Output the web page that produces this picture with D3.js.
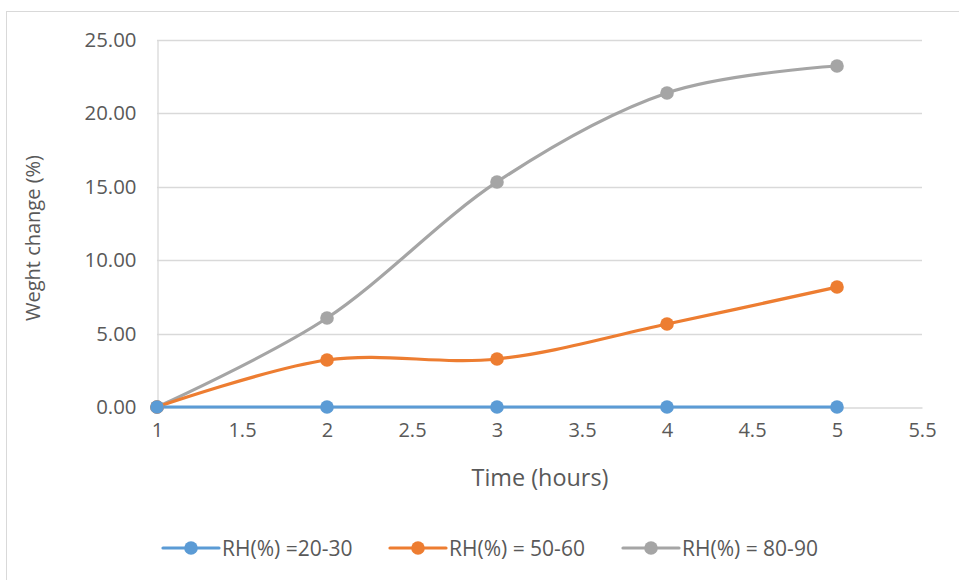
<!DOCTYPE html>
<html><head><meta charset="utf-8">
<script src="https://cdn.jsdelivr.net/npm/d3@7"></script>
<style>
html,body{margin:0;padding:0;background:#fff;}
svg text{font-family:"Open Sans",Lato,sans-serif;fill:#595959;}
</style></head>
<body>
<svg id="c" width="959" height="580"></svg>
<script>
const times = [1, 2, 3, 4, 5];
const seriesNames = ["RH(%) =20-30", "RH(%) = 50-60", "RH(%) = 80-90"];
const rh2030 = [0, 0, 0, 0, 0];
const rh5060 = [0, 3.2, 3.27, 5.65, 8.17];
const rh8090 = [0, 6.06, 15.33, 21.39, 23.23];
const colors = ["#5b9bd5", "#ed7d31", "#a5a5a5"];
const xTicks = [1, 1.5, 2, 2.5, 3, 3.5, 4, 4.5, 5, 5.5];
const yTicks = [0, 5, 10, 15, 20, 25];

const svg = d3.select("#c");
svg.append("rect").attr("x",6.5).attr("y",11.5).attr("width",970).attr("height",600)
  .attr("fill","none").attr("stroke","#d9d9d9").attr("stroke-width",1);

const x = d3.scaleLinear().domain([1,5.5]).range([157,922]);
const y = d3.scaleLinear().domain([0,25]).range([407,40]);

// gridlines
svg.append("g").selectAll("line").data(yTicks.filter(d=>d>0)).join("line")
  .attr("x1",x(1)).attr("x2",x(5.5)).attr("y1",d=>Math.round(y(d))+0.5).attr("y2",d=>Math.round(y(d))+0.5)
  .attr("stroke","#d9d9d9").attr("stroke-width",1.3);

// axes
const xa = svg.append("g").attr("transform",`translate(0,${Math.round(y(0))+0.5})`)
  .call(d3.axisBottom(x).tickValues(xTicks).tickSize(0).tickPadding(15).tickFormat(d=>d3.format("")(d)));
xa.select(".domain").attr("stroke","#d9d9d9").attr("stroke-width",1.3);
xa.selectAll("text").attr("font-size","20px").attr("fill","#595959");

const ya = svg.append("g").attr("transform",`translate(${Math.round(x(1))+0.5},0)`)
  .call(d3.axisLeft(y).tickValues(yTicks).tickSize(0).tickPadding(21).tickFormat(d3.format(".2f")));
ya.select(".domain").attr("stroke","#d9d9d9").attr("stroke-width",1.3);
ya.selectAll("text").attr("font-size","20.4px").attr("fill","#595959");

// titles
svg.append("text").attr("x",540).attr("y",486).attr("text-anchor","middle")
  .attr("font-size","23.4px").text("Time (hours)");
svg.append("text").attr("transform","translate(40,238) rotate(-90)").attr("text-anchor","middle")
  .attr("font-size","20px").text("Weght change (%)");

// series
const data = [rh2030, rh5060, rh8090];
const line = d3.line().x((d,i)=>x(times[i])).y(d=>y(d)).curve(d3.curveCardinal.tension(0));
const order = [2,1,0];
order.forEach(k=>{
  svg.append("path").attr("d",line(data[k])).attr("fill","none")
    .attr("stroke",colors[k]).attr("stroke-width",3.2).attr("stroke-linecap","round");
});
order.forEach(k=>{
  svg.append("g").selectAll("circle").data(data[k]).join("circle")
    .attr("cx",(d,i)=>x(times[i])).attr("cy",d=>y(d)).attr("r",6.8).attr("fill",colors[k]);
});

// legend
const legX = [163, 390, 623];
seriesNames.forEach((n,k)=>{
  const g = svg.append("g").attr("transform",`translate(${legX[k]},548)`);
  g.append("line").attr("x1",0).attr("x2",56).attr("stroke",colors[k]).attr("stroke-width",3.2).attr("stroke-linecap","round");
  g.append("circle").attr("cx",28).attr("r",6.8).attr("fill",colors[k]);
  g.append("text").attr("x",59).attr("y",7.5).attr("font-size","21px").text(n);
});
</script>
</body></html>
